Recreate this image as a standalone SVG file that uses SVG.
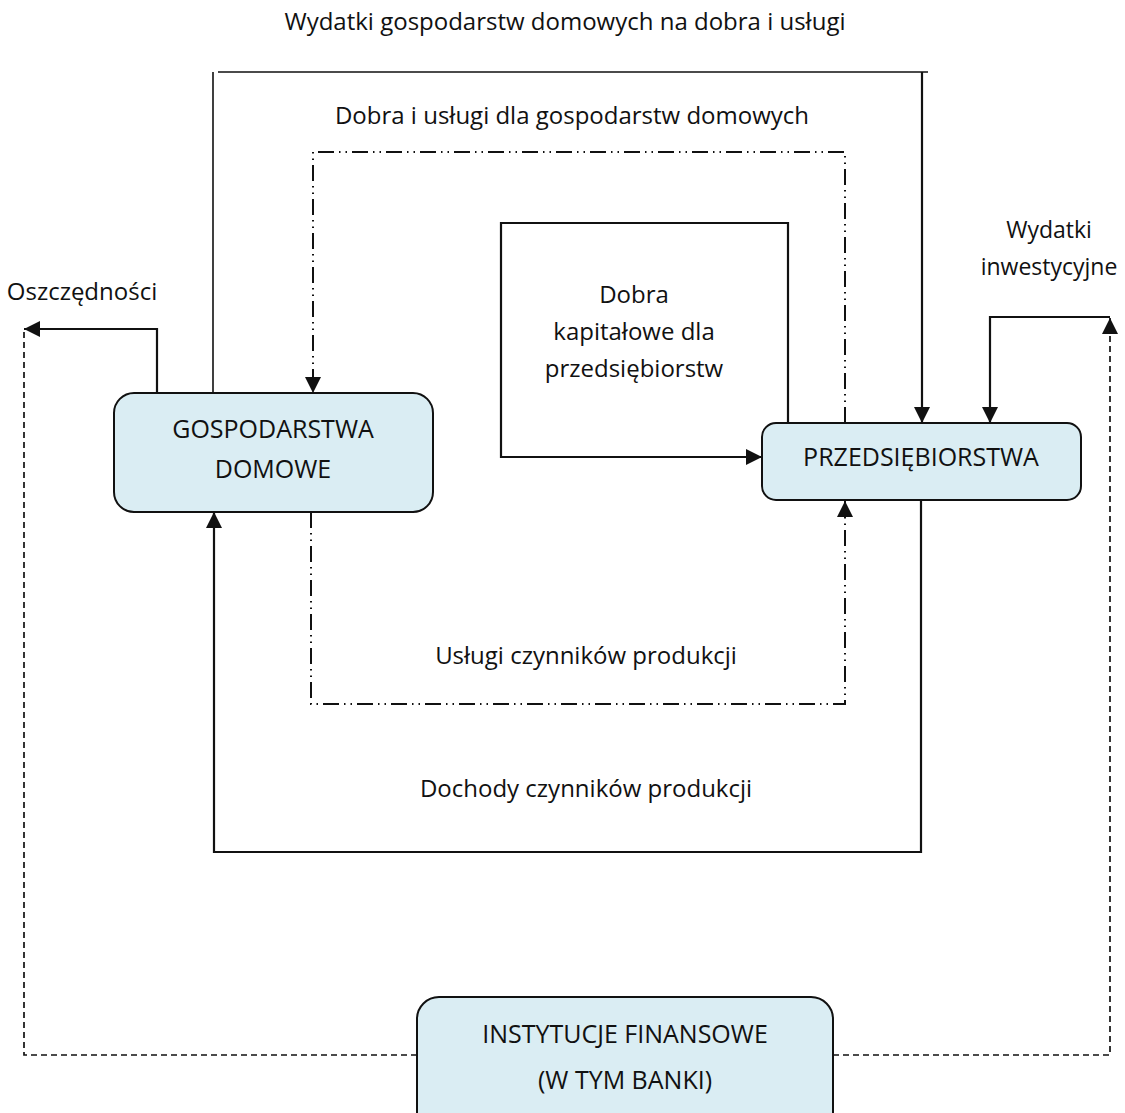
<svg xmlns="http://www.w3.org/2000/svg" width="1125" height="1113" viewBox="0 0 1125 1113">
  <style>
    text { font-family: "Open Sans", "Noto Sans", "Liberation Sans", sans-serif; font-size: 24px; fill: #111; text-anchor: middle; }
    .caps { font-size: 25px; }
    .small { font-size: 23px; }
    .box { fill: #daedf3; stroke: #111; stroke-width: 2; }
    .solid { fill: none; stroke: #111; stroke-width: 2.2; }
    .thin { fill: none; stroke: #111; stroke-width: 1.6; }
    .ddot { fill: none; stroke: #111; stroke-width: 2; stroke-dasharray: 16 5 1.5 5 1.5 5; }
    .dash { fill: none; stroke: #111; stroke-width: 1.7; stroke-dasharray: 6 4; }
  </style>
  <defs>
    <marker id="arrow" viewBox="0 0 16 16" refX="16" refY="8" markerWidth="16" markerHeight="16" markerUnits="userSpaceOnUse" orient="auto">
      <path d="M0,0 L16,8 L0,16 Z" fill="#111"/>
    </marker>
  </defs>

  <!-- flow labels -->
  <g id="labels">
    <text x="565" y="30">Wydatki gospodarstw domowych na dobra i usługi</text>
    <text x="572" y="124">Dobra i usługi dla gospodarstw domowych</text>
    <text x="634" y="303">Dobra</text>
    <text x="634" y="340">kapitałowe dla</text>
    <text x="634" y="377">przedsiębiorstw</text>
    <text x="82" y="300">Oszczędności</text>
    <text class="small" x="1049" y="238">Wydatki</text>
    <text class="small" x="1049" y="275">inwestycyjne</text>
    <text x="586" y="664">Usługi czynników produkcji</text>
    <text x="586" y="797">Dochody czynników produkcji</text>
  </g>

  <g id="connectors">
    <!-- household spending on goods and services -->
    <path class="thin" d="M213,393 V72 M218,72 H928"/>
    <path class="solid" d="M922,72 V423" marker-end="url(#arrow)"/>
    <!-- goods and services for households -->
    <path class="ddot" d="M845,423 V152 H313 V393" marker-end="url(#arrow)"/>
    <!-- capital goods for firms -->
    <path class="solid" d="M788,423 V223 H501 V457 H762" marker-end="url(#arrow)"/>
    <!-- factor services -->
    <path class="ddot" d="M311,512 V704 H845 V501" marker-end="url(#arrow)"/>
    <!-- factor incomes -->
    <path class="solid" d="M921,500 V852 H214 V512" marker-end="url(#arrow)"/>
    <!-- savings -->
    <path class="solid" d="M157,393 V329 H24" marker-end="url(#arrow)"/>
    <path class="dash" d="M417,1055 H24 V331"/>
    <!-- investment spending -->
    <path class="dash" d="M833,1055 H1110 V318" marker-end="url(#arrow)"/>
    <path class="solid" d="M1110,317 H990 V423" marker-end="url(#arrow)"/>
  </g>

  <g id="households">
    <rect class="box" x="114" y="393" width="319" height="119" rx="20"/>
    <text class="caps" x="273" y="438">GOSPODARSTWA</text>
    <text class="caps" x="273" y="478">DOMOWE</text>
  </g>

  <g id="firms">
    <rect class="box" x="762" y="423" width="319" height="77" rx="14"/>
    <text class="caps" x="921" y="466">PRZEDSIĘBIORSTWA</text>
  </g>

  <g id="banks">
    <rect class="box" x="417" y="997" width="416" height="140" rx="22"/>
    <text class="caps" x="625" y="1043">INSTYTUCJE FINANSOWE</text>
    <text class="caps" x="625" y="1089">(W TYM BANKI)</text>
  </g>
</svg>
